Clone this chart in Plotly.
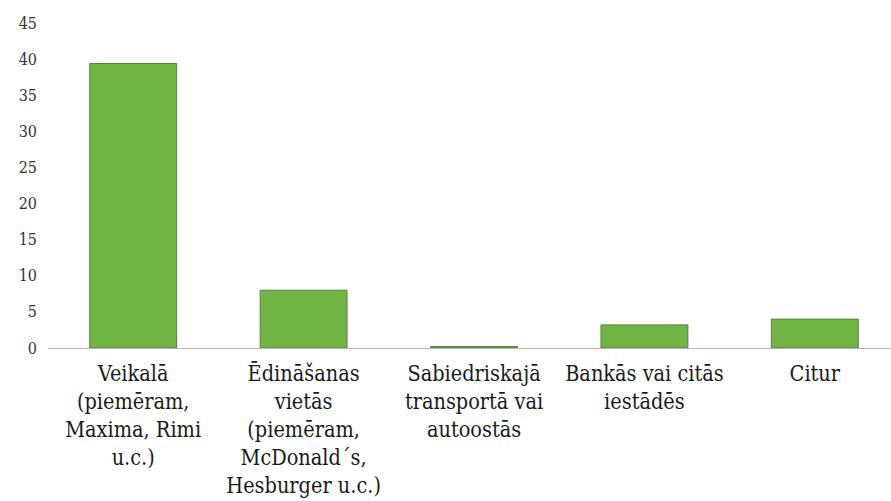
import plotly.graph_objects as go

# Where respondents encountered it
categories = [
    "Veikalā<br>(piemēram,<br>Maxima, Rimi<br>u.c.)",
    "Ēdināšanas<br>vietās<br>(piemēram,<br>McDonald´s,<br>Hesburger u.c.)",
    "Sabiedriskajā<br>transportā vai<br>autoostās",
    "Bankās vai citās<br>iestādēs",
    "Citur",
]
values = [39.4, 8, 0.2, 3.2, 4]
y_ticks = [0, 5, 10, 15, 20, 25, 30, 35, 40, 45]

SERIF = "DejaVu Serif Condensed, DejaVu Serif"

fig = go.Figure(
    go.Bar(
        x=list(range(len(categories))),
        y=values,
        width=0.51,
        marker=dict(color="#70b443", line=dict(color="#5b7d45", width=1)),
        hoverinfo="skip",
    )
)

fig.update_layout(
    width=891,
    height=501,
    margin=dict(l=48, r=0, t=23, b=153),
    paper_bgcolor="white",
    plot_bgcolor="white",
    showlegend=False,
    font=dict(family=SERIF, color="#1a1a1a"),
)

fig.update_xaxes(
    range=[-0.5, 4.447],
    tickmode="array",
    tickvals=list(range(len(categories))),
    ticktext=categories,
    tickfont=dict(size=21.5, family=SERIF, color="#1a1a1a"),
    showgrid=False,
    zeroline=False,
    showline=True,
    linecolor="#b5b5b5",
    linewidth=1,
    ticks="",
    tickangle=0,
    ticklabelstandoff=6,
)

fig.update_yaxes(
    range=[0, 45],
    tickmode="array",
    tickvals=y_ticks,
    ticktext=[str(v) for v in y_ticks],
    tickfont=dict(size=16, family=SERIF, color="#333333"),
    showgrid=False,
    zeroline=False,
    showline=False,
    ticks="",
    ticklabelstandoff=10,
)

fig.write_html("out.html")
